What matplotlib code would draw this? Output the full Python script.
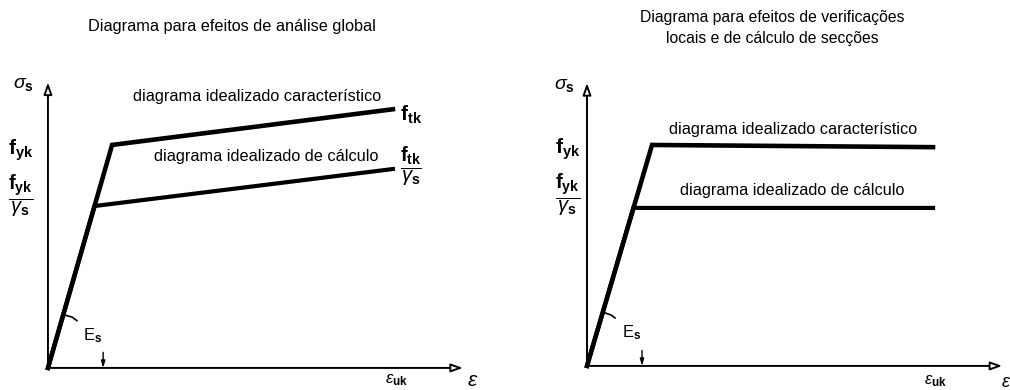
import numpy as np
import matplotlib.pyplot as plt

plt.rcParams['font.family'] = ['Liberation Sans', 'DejaVu Sans']
plt.rcParams['mathtext.fontset'] = 'custom'
plt.rcParams['mathtext.rm'] = 'Liberation Sans'
plt.rcParams['mathtext.it'] = 'Liberation Sans:italic'
plt.rcParams['mathtext.bf'] = 'Liberation Sans:bold'

# strain (eps_uk = 1) and stress (f_yk = 1) of the idealized diagrams
# left: global analysis (hardening branch)
glob_char_eps = [0.0, 0.186, 1.0]
glob_char_sig = [0.0, 1.0, 1.16]
glob_calc_eps = [0.0, 0.135, 1.0]
glob_calc_sig = [0.0, 0.726, 0.892]

# right: local checks / section design (horizontal branch)
loc_char_eps = [0.0, 0.188, 1.0]
loc_char_sig = [0.0, 1.0, 0.99]
loc_calc_eps = [0.0, 0.134, 1.0]
loc_calc_sig = [0.0, 0.715, 0.715]

titles = ['Diagrama para efeitos de análise global',
          'Diagrama para efeitos de verificações\nlocais e de cálculo de secções']
lbl_char = 'diagrama idealizado característico'
lbl_calc = 'diagrama idealizado de cálculo'

fyk = r'$\mathbf{f}_{\mathbf{yk}}$'
fyd = r'$\dfrac{\mathbf{f}_{\mathbf{yk}}}{\gamma_{\mathbf{s}}}$'
ftk = r'$\mathbf{f}_{\mathbf{tk}}$'
ftd = r'$\dfrac{\mathbf{f}_{\mathbf{tk}}}{\gamma_{\mathbf{s}}}$'

fig = plt.figure(figsize=(10.1, 3.9), dpi=100)
axL = fig.add_axes([0, 0, 0.5, 1])
axR = fig.add_axes([0.5, 0, 0.5, 1])
axL.set_xlim(-0.139, 1.325)
axL.set_ylim(-0.099, 1.650)
axR.set_xlim(-0.237, 1.2225)
axR.set_ylim(-0.109, 1.656)
for ax in (axL, axR):
    ax.set_axis_off()


def frame(ax, xend, yend):
    arr = dict(arrowstyle='-|>,head_length=0.7,head_width=0.25',
               lw=1.4, color='black', fc='white', shrinkA=0, shrinkB=0)
    ax.annotate('', xy=(0, yend), xytext=(0, 0), arrowprops=arr)
    ax.annotate('', xy=(xend, 0), xytext=(0, 0), arrowprops=arr)


def elastic_marks(ax, xt, yt, es_pos):
    # little arc on the elastic branch, E_s label and tick on the strain axis
    ax.plot([yt[0], yt[1], yt[2]], [yt[3], yt[4], yt[5]], color='black', lw=1.2)
    ax.text(*es_pos, r'E$_\mathbf{s}$', fontsize=12, ha='center', va='center')
    ax.annotate('', xy=(xt, 0.0), xytext=(xt, 0.07),
                arrowprops=dict(arrowstyle='-|>,head_length=0.4,head_width=0.12',
                                lw=1.0, color='black', shrinkA=0, shrinkB=0))


# left panel
frame(axL, 1.203, 1.28)
axL.plot(glob_char_eps, glob_char_sig, color='black', lw=3.3, solid_joinstyle='miter')
axL.plot(glob_calc_eps, glob_calc_sig, color='black', lw=3.0, solid_joinstyle='miter')
elastic_marks(axL, 0.16, [0.046, 0.07, 0.084, 0.238, 0.228, 0.212], (0.13, 0.143))
axL.text(-0.072, 1.27, r'$\sigma_\mathbf{s}$', fontsize=14, ha='center', va='center')
axL.text(-0.078, 0.978, fyk, fontsize=15, ha='center', va='center')
axL.text(-0.078, 0.771, fyd, fontsize=14.5, ha='center', va='center')
axL.text(0.606, 1.215, lbl_char, fontsize=11.7, ha='center', va='center')
axL.text(0.632, 0.946, lbl_calc, fontsize=11.7, ha='center', va='center')
axL.text(1.02, 1.135, ftk, fontsize=15, ha='left', va='center')
axL.text(1.052, 0.906, ftd, fontsize=14.5, ha='center', va='center')
axL.text(1.01, -0.054, r'$\varepsilon_\mathbf{uk}$', fontsize=12, ha='center', va='center')
axL.text(1.232, -0.058, r'$\varepsilon$', fontsize=15, ha='center', va='center')
fig.text(232 / 1010, 1 - 26 / 390, titles[0], fontsize=11.7, ha='center', va='center')

# right panel
frame(axR, 1.2, 1.28)
axR.plot(loc_char_eps, loc_char_sig, color='black', lw=3.3, solid_joinstyle='miter')
axR.plot(loc_calc_eps, loc_calc_sig, color='black', lw=3.0, solid_joinstyle='miter')
elastic_marks(axR, 0.159, [0.052, 0.07, 0.081, 0.24, 0.23, 0.217], (0.13, 0.149))
axR.text(-0.066, 1.27, r'$\sigma_\mathbf{s}$', fontsize=14, ha='center', va='center')
axR.text(-0.055, 0.982, fyk, fontsize=15, ha='center', va='center')
axR.text(-0.055, 0.774, fyd, fontsize=14.5, ha='center', va='center')
axR.text(0.595, 1.07, lbl_char, fontsize=11.7, ha='center', va='center')
axR.text(0.592, 0.796, lbl_calc, fontsize=11.7, ha='center', va='center')
axR.text(1.006, -0.068, r'$\varepsilon_\mathbf{uk}$', fontsize=12, ha='center', va='center')
axR.text(1.21, -0.075, r'$\varepsilon$', fontsize=13, ha='center', va='center')
fig.text(772 / 1010, 1 - 28 / 390, titles[1], fontsize=11.3, ha='center', va='center',
         linespacing=1.5)

fig.savefig('out.png', dpi=100)
